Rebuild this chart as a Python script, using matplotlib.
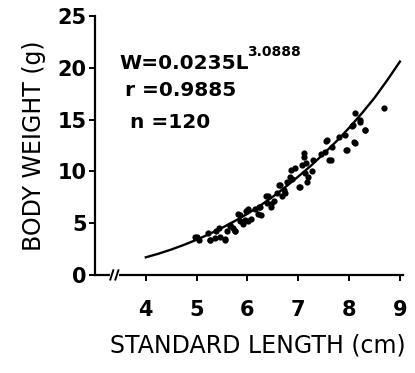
# lengthWeight.py : body weight vs standard length scatter with the
# fitted power curve, redrawn from a scanned figure.

import numpy as np
import matplotlib
matplotlib.use("Agg")
import matplotlib.pyplot as plt

# Scatter points (standard length cm, body weight g)
length = [4.96, 5.00, 5.04, 5.22, 5.26, 5.26, 5.36, 5.39, 5.43, 5.46,
          5.56, 5.56, 5.59, 5.65, 5.66, 5.72, 5.75, 5.75, 5.82, 5.85,
          5.85, 5.92, 5.95, 5.98, 6.01, 6.01, 6.07, 6.14, 6.20, 6.23,
          6.24, 6.27, 6.36, 6.39, 6.41, 6.46, 6.47, 6.52, 6.59, 6.62,
          6.64, 6.67, 6.71, 6.74, 6.78, 6.83, 6.85, 6.88, 6.93, 7.01,
          7.03, 7.08, 7.11, 7.11, 7.14, 7.16, 7.18, 7.19, 7.26, 7.28,
          7.44, 7.52, 7.54, 7.56, 7.61, 7.64, 7.67, 7.80, 7.92, 7.93,
          7.95, 8.06, 8.08, 8.09, 8.11, 8.12, 8.21, 8.22, 8.31, 8.32,
          8.68]
weight = [3.7, 3.7, 3.4, 4.0, 3.4, 3.4, 3.6, 4.2, 4.5, 3.7,
          3.4, 3.5, 4.2, 4.7, 4.8, 4.5, 4.2, 4.2, 5.9, 5.2,
          5.8, 4.9, 5.3, 6.2, 5.2, 6.4, 5.4, 6.4, 5.9, 6.6,
          6.6, 5.8, 7.6, 6.9, 7.6, 6.6, 6.8, 7.1, 7.9, 8.7,
          8.7, 7.6, 8.2, 7.9, 9.0, 9.5, 10.1, 9.3, 10.3, 8.5,
          8.5, 10.6, 11.4, 11.8, 9.8, 10.8, 9.0, 9.5, 10.0, 11.1,
          11.7, 11.9, 12.9, 13.0, 11.1, 11.1, 12.4, 13.3, 13.5, 12.1,
          12.1, 14.4, 14.5, 12.8, 12.7, 15.6, 14.8, 15.0, 14.0, 14.0,
          16.1]

# Fitted curve as drawn in the figure
curveL = [4.0, 4.25, 4.5, 4.75, 5.0, 5.25, 5.5, 5.75, 6.0, 6.25, 6.5,
          6.75, 7.0, 7.25, 7.5, 7.75, 8.0, 8.25, 8.5, 8.75, 9.0]
curveW = [1.7, 2.05, 2.45, 2.9, 3.4, 3.95, 4.55, 5.2, 5.9, 6.7, 7.55,
          8.5, 9.5, 10.55, 11.7, 12.9, 14.2, 15.6, 17.1, 18.8, 20.6]

xticks = [4, 5, 6, 7, 8, 9]
yticks = [0, 5, 10, 15, 20, 25]

fig = plt.figure(figsize=(4.15, 3.73), dpi=100)
ax = fig.add_axes([0.229, 0.263, 0.742, 0.694])

ax.plot(curveL, curveW, '-k', lw=1.7)
ax.plot(length, weight, 'o', color='k', markersize=4.5, markeredgewidth=0)

ax.set_xlim(3.0, 9.06)
ax.set_ylim(0, 25)
ax.set_xticks(xticks)
ax.set_yticks(yticks)
for side in ['top', 'right']:
	ax.spines[side].set_visible(False)
for side in ['left', 'bottom']:
	ax.spines[side].set_linewidth(1.6)
ax.tick_params(direction='out', length=4, width=1.4, labelsize=15)
ax.tick_params(axis='x', pad=14)
ax.tick_params(axis='y', pad=2)
for lab in ax.get_xticklabels() + ax.get_yticklabels():
	lab.set_fontweight('bold')

# axis break on the x axis
ax.plot([3.33, 3.43], [0, 0], '-', color='w', lw=3, clip_on=False, zorder=5)
for xb in [3.33, 3.43]:
	ax.plot([xb - 0.03, xb + 0.03], [-0.45, 0.45], '-k', lw=1.4,
	        clip_on=False, zorder=6)

ax.set_xlabel("STANDARD LENGTH (cm)", fontsize=17)
ax.xaxis.set_label_coords(0.53, -0.228)
ax.set_ylabel("BODY WEIGHT (g)", fontsize=17, labelpad=8)

ax.text(3.48, 20.4, "W=0.0235L", fontsize=14.5, fontweight='bold', va='center')
ax.text(6.0, 21.5, "3.0888", fontsize=10, fontweight='bold', va='center')
ax.text(3.58, 17.8, "r =0.9885", fontsize=14.5, fontweight='bold', va='center')
ax.text(3.68, 14.7, "n =120", fontsize=14.5, fontweight='bold', va='center')

plt.savefig("out.png", dpi=100)
